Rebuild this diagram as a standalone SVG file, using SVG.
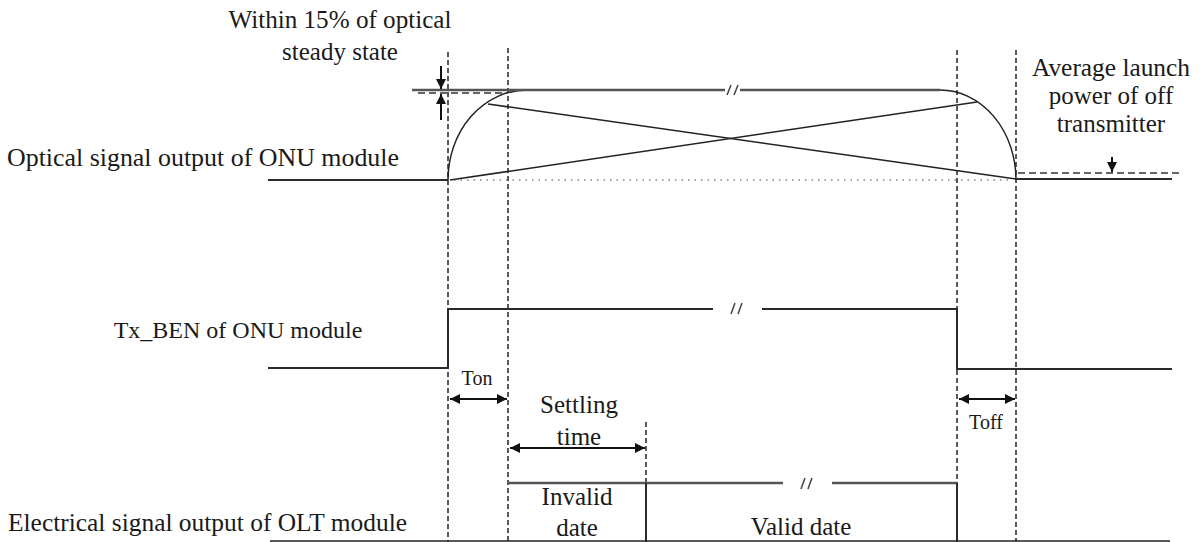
<svg xmlns="http://www.w3.org/2000/svg" width="1202" height="542" viewBox="0 0 1202 542">
<style>
  text { font-family: "Liberation Serif", "Times New Roman", serif; fill: #1a1a1a; }
  .lbl { font-size: 25px; }
  .sm { font-size: 20px; }
  .mid { text-anchor: middle; }
  .sig { fill: none; stroke: #2a2a2a; stroke-width: 2; }
  .sigg { fill: none; stroke: #555; stroke-width: 2.5; }
  .thin { fill: none; stroke: #222; stroke-width: 1.5; }
  .vd { fill: none; stroke: #222; stroke-width: 1.5; stroke-dasharray: 5 3; }
  .hd { fill: none; stroke: #333; stroke-width: 1.5; stroke-dasharray: 7 4; }
  .dot { fill: none; stroke: #444; stroke-width: 1.2; stroke-dasharray: 1.5 5; }
  .arr { fill: none; stroke: #111; stroke-width: 2; }
  .slash { fill: none; stroke: #444; stroke-width: 1.5; }
</style>
<defs>
  <marker id="ah" viewBox="0 0 10 10" refX="10" refY="5" markerWidth="5" markerHeight="5" orient="auto-start-reverse" markerUnits="strokeWidth">
    <path d="M0,0 L10,5 L0,10 z" fill="#111"/>
  </marker>
</defs>

<g id="guides">
  <line class="vd" x1="448" y1="52" x2="448" y2="542"/>
  <line class="vd" x1="508" y1="48" x2="508" y2="542"/>
  <line class="vd" x1="957" y1="50" x2="957" y2="542"/>
  <line class="vd" x1="1016" y1="50" x2="1016" y2="542"/>
  <line class="vd" x1="646" y1="422" x2="646" y2="483"/>
</g>

<g id="optical-signal">
  <line class="sig" x1="268" y1="180" x2="448" y2="180"/>
  <path class="thin" d="M448,180 A79,90 0 0 1 527,90"/>
  <path class="sigg" d="M412,90 L725,90 M740,90 L940,90"/>
  <path class="slash" d="M727,95 L731,85 M734,95 L738,85"/>
  <path class="thin" d="M940,90 A76,90 0 0 1 1016,180"/>
  <line class="thin" x1="488" y1="104" x2="1016" y2="179"/>
  <line class="thin" x1="450" y1="180" x2="977" y2="102"/>
  <line class="dot" x1="454" y1="180" x2="1012" y2="180"/>
  <line class="sig" x1="1016" y1="179" x2="1172" y2="179"/>
  <line class="hd" x1="1018" y1="173" x2="1182" y2="173"/>
  <line class="hd" x1="418" y1="93" x2="508" y2="93"/>
</g>

<g id="tx-ben">
  <path class="sig" d="M268,368 L448,368 L448,309 L713,309 M762,309 L957,309 L957,369 L1172,369"/>
  <path class="slash" d="M731,314 L735,303 M738,314 L742,303"/>
</g>

<g id="electrical-signal">
  <path class="sigg" d="M509,483 L783,483 M832,483 L957,483"/>
  <path class="slash" d="M801,489 L805,478 M808,489 L812,478"/>
  <line class="sig" x1="646" y1="483" x2="646" y2="542"/>
  <line class="sig" x1="957" y1="483" x2="957" y2="542"/>
  <line class="thin" x1="270" y1="541" x2="1170" y2="541" stroke="#777"/>
</g>

<g id="connectors">
  <line class="arr" x1="441" y1="66" x2="441" y2="89" marker-end="url(#ah)"/>
  <line class="arr" x1="441" y1="120" x2="441" y2="94" marker-end="url(#ah)"/>
  <line class="arr" x1="1112" y1="157" x2="1112" y2="172" marker-end="url(#ah)"/>
  <line class="arr" x1="450" y1="399" x2="507" y2="399" marker-start="url(#ah)" marker-end="url(#ah)"/>
  <line class="arr" x1="959" y1="399" x2="1015" y2="399" marker-start="url(#ah)" marker-end="url(#ah)"/>
  <line class="arr" x1="510" y1="448" x2="645" y2="448" marker-start="url(#ah)" marker-end="url(#ah)"/>
</g>

<g id="label-within">
  <text class="lbl mid" x="340" y="28" textLength="223" lengthAdjust="spacingAndGlyphs">Within 15% of optical</text>
  <text class="lbl mid" x="340" y="60">steady state</text>
</g>
<g id="label-average">
  <text class="lbl mid" x="1111" y="76" textLength="158" lengthAdjust="spacingAndGlyphs">Average launch</text>
  <text class="lbl mid" x="1111" y="104">power of off</text>
  <text class="lbl mid" x="1111" y="132">transmitter</text>
</g>
<g id="label-optical"><text class="lbl" x="7" y="166" textLength="392" lengthAdjust="spacingAndGlyphs">Optical signal output of ONU module</text></g>
<g id="label-txben"><text class="lbl mid" x="238" y="338" style="font-size:24px">Tx_BEN of ONU module</text></g>
<g id="label-electrical"><text class="lbl" x="8" y="531" textLength="399" lengthAdjust="spacingAndGlyphs">Electrical signal output of OLT module</text></g>
<g id="label-ton"><text class="sm mid" x="477" y="385">Ton</text></g>
<g id="label-toff"><text class="sm mid" x="986" y="429">Toff</text></g>
<g id="label-settling">
  <text class="lbl mid" x="579" y="413">Settling</text>
  <text class="lbl mid" x="579" y="445">time</text>
</g>
<g id="label-invalid">
  <text class="lbl mid" x="577" y="505">Invalid</text>
  <text class="lbl mid" x="577" y="536">date</text>
</g>
<g id="label-valid"><text class="lbl mid" x="801" y="535">Valid date</text></g>
</svg>
